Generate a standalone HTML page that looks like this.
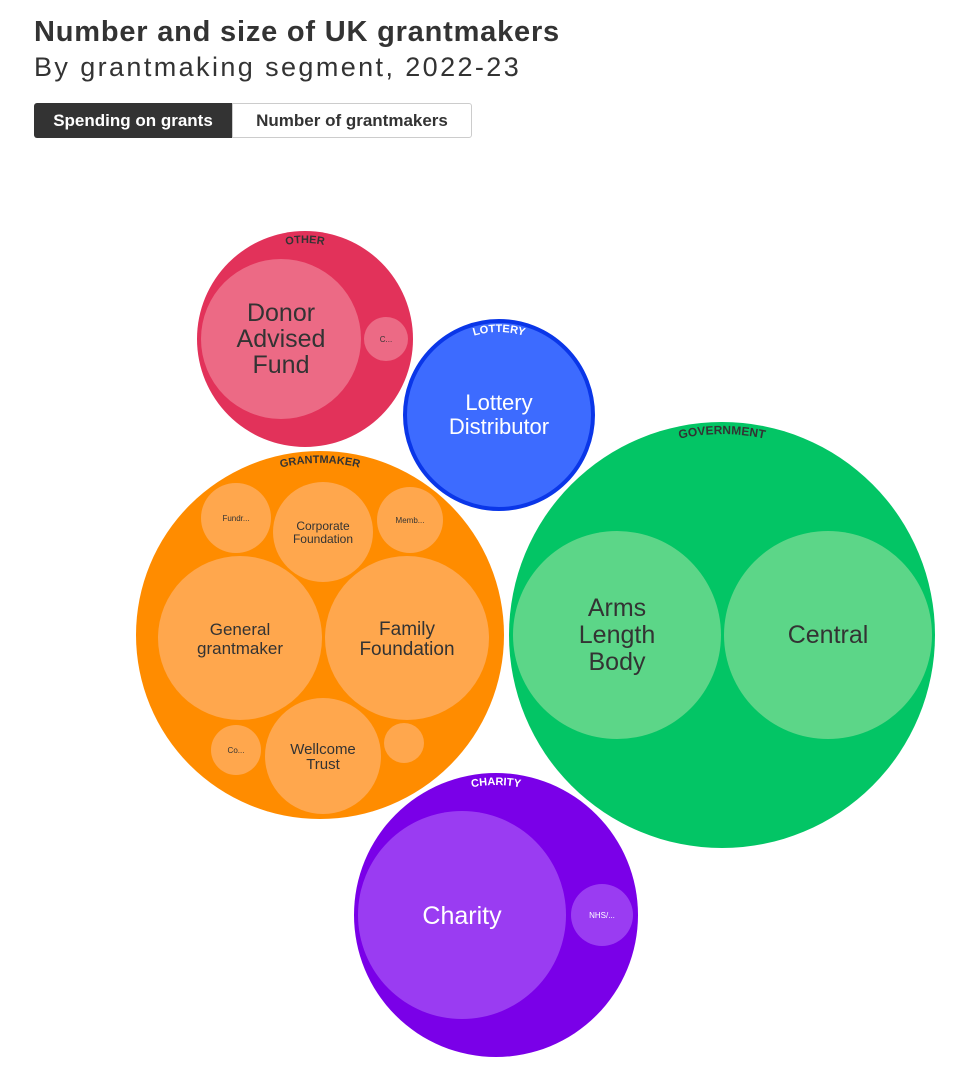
<!DOCTYPE html>
<html><head><meta charset="utf-8"><style>
body{margin:0;background:#fff;width:960px;height:1070px;overflow:hidden;font-family:"Liberation Sans",sans-serif;color:#333}
.t{position:absolute;left:34px;top:16px;font-size:29px;font-weight:bold;color:#333;letter-spacing:0.8px}
.s{position:absolute;left:34px;top:52px;font-size:27px;color:#333;letter-spacing:2.4px}
.b1{position:absolute;left:34px;top:103px;width:198px;height:35px;background:#333;color:#fff;font-weight:bold;font-size:17px;line-height:35px;text-align:center;border-radius:3px 0 0 3px}
.b2{position:absolute;left:232px;top:103px;width:238px;height:33px;border:1px solid #ccc;color:#333;font-weight:bold;font-size:17px;line-height:33px;text-align:center;border-radius:0 3px 3px 0}
svg{position:absolute;left:0;top:0}
</style></head><body>
<div class="t">Number and size of UK grantmakers</div>
<div class="s">By grantmaking segment, 2022-23</div>
<div class="b1">Spending on grants</div>
<div class="b2">Number of grantmakers</div>
<svg width="960" height="1070" font-family="Liberation Sans, sans-serif" text-anchor="middle">
<defs>
<path id="pO" d="M 209 339 A 96 96 0 0 1 401 339"/>
<path id="pL" d="M 416 415 A 83 83 0 0 1 582 415"/>
<path id="pG" d="M 148 635 A 172 172 0 0 1 492 635"/>
<path id="pV" d="M 521 635 A 201 201 0 0 1 923 635"/>
<path id="pC" d="M 366 915 A 130 130 0 0 1 626 915"/>
</defs>
<circle cx="305" cy="339" r="108" fill="#e2325a"/>
<circle cx="281" cy="339" r="80" fill="#ec6a85"/>
<circle cx="386" cy="339" r="22" fill="#ec6a85"/>
<text font-size="11" font-weight="bold" fill="#333"><textPath href="#pO" startOffset="50%">OTHER</textPath></text>
<text x="281" y="321" font-size="25" fill="#333">Donor</text>
<text x="281" y="347" font-size="25" fill="#333">Advised</text>
<text x="281" y="373" font-size="25" fill="#333">Fund</text>
<text x="386" y="342" font-size="8" fill="#333">C...</text>

<circle cx="499" cy="415" r="94" fill="#3d6bff" stroke="#0a36e8" stroke-width="4"/>
<text font-size="11" font-weight="bold" fill="#fff"><textPath href="#pL" startOffset="50%">LOTTERY</textPath></text>
<text x="499" y="410" font-size="22" fill="#fff">Lottery</text>
<text x="499" y="434" font-size="22" fill="#fff">Distributor</text>

<circle cx="320" cy="635" r="184" fill="#ff8c00"/>
<g fill="#ffa74d">
<circle cx="236" cy="518" r="35"/><circle cx="323" cy="532" r="50"/><circle cx="410" cy="520" r="33"/>
<circle cx="240" cy="638" r="82"/><circle cx="407" cy="638" r="82"/>
<circle cx="236" cy="750" r="25"/><circle cx="323" cy="756" r="58"/><circle cx="404" cy="743" r="20"/>
</g>
<text font-size="11" font-weight="bold" fill="#333"><textPath href="#pG" startOffset="50%">GRANTMAKER</textPath></text>
<g fill="#333">
<text x="236" y="521" font-size="8">Fundr...</text>
<text x="323" y="530" font-size="12">Corporate</text>
<text x="323" y="543" font-size="12">Foundation</text>
<text x="410" y="523" font-size="8">Memb...</text>
<text x="240" y="635" font-size="17">General</text>
<text x="240" y="654" font-size="17">grantmaker</text>
<text x="407" y="635" font-size="19">Family</text>
<text x="407" y="655" font-size="19">Foundation</text>
<text x="236" y="753" font-size="8">Co...</text>
<text x="323" y="754" font-size="15">Wellcome</text>
<text x="323" y="769" font-size="15">Trust</text>
</g>

<circle cx="722" cy="635" r="213" fill="#03c565"/>
<circle cx="617" cy="635" r="104" fill="#5cd688"/>
<circle cx="828" cy="635" r="104" fill="#5cd688"/>
<text font-size="12" font-weight="bold" fill="#333"><textPath href="#pV" startOffset="50%">GOVERNMENT</textPath></text>
<g fill="#333">
<text x="617" y="616" font-size="25">Arms</text>
<text x="617" y="643" font-size="25">Length</text>
<text x="617" y="670" font-size="25">Body</text>
<text x="828" y="643" font-size="25">Central</text>
</g>

<circle cx="496" cy="915" r="142" fill="#7a00e8"/>
<circle cx="462" cy="915" r="104" fill="#9a3cf2"/>
<circle cx="602" cy="915" r="31" fill="#9a3cf2"/>
<text font-size="11" font-weight="bold" fill="#fff"><textPath href="#pC" startOffset="50%">CHARITY</textPath></text>
<text x="462" y="924" font-size="25" fill="#fff">Charity</text>
<text x="602" y="918" font-size="8" fill="#fff">NHS/...</text>
</svg>
</body></html>
